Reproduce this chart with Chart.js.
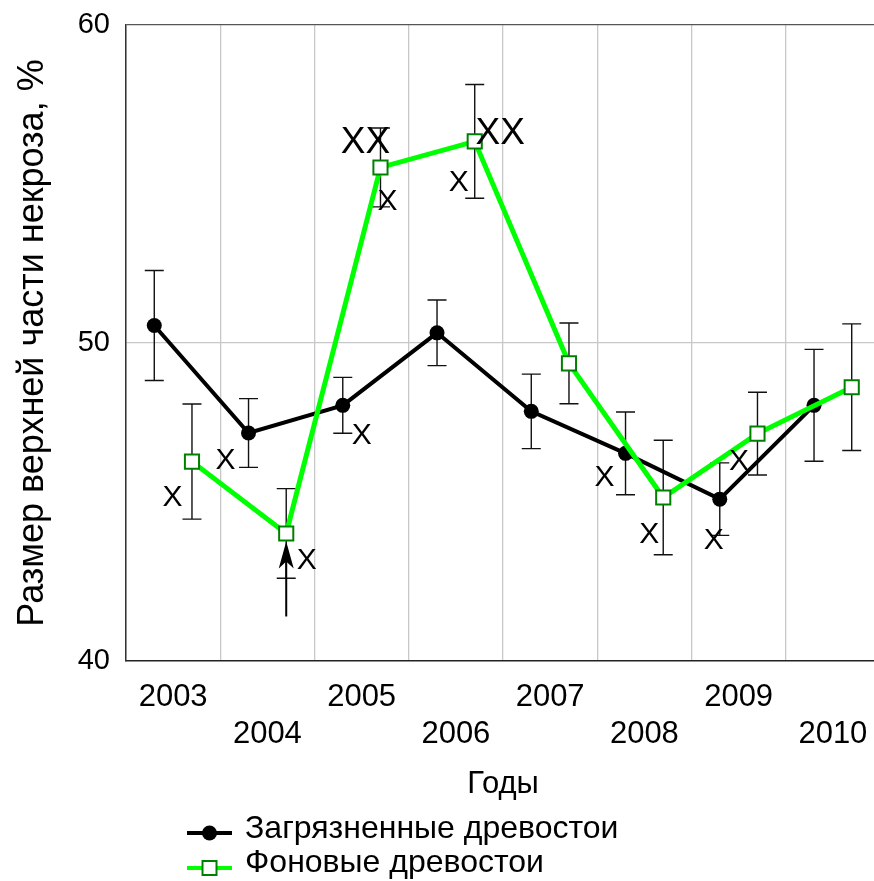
<!DOCTYPE html>
<html>
<head>
<meta charset="utf-8">
<script src="https://cdn.jsdelivr.net/npm/chart.js@4/dist/chart.umd.min.js"></script>
<style>
  html, body { margin: 0; padding: 0; background: #fff; overflow: hidden; }
  #wrap { width: 874px; height: 881px; overflow: hidden; }
  canvas { display: block; }
</style>
</head>
<body>
<div id="wrap"><canvas id="c" width="892" height="881"></canvas></div>
<script>
// ---- data ----
const years = ['2003', '2004', '2005', '2006', '2007', '2008', '2009', '2010'];
const pollutedMean = [50.55, 47.17, 48.04, 50.32, 47.85, 46.53, 45.09, 48.04];
const pollutedErr  = [1.73, 1.08, 0.88, 1.03, 1.17, 1.30, 1.14, 1.76];
const backgroundMean = [46.27, 44.01, 55.52, 56.34, 49.36, 45.14, 47.15, 48.61];
const backgroundErr  = [1.81, 1.41, 1.24, 1.79, 1.27, 1.80, 1.30, 1.99];
const yTicks = [40, 50, 60];
const seriesNames = ['Загрязненные древостои', 'Фоновые древостои'];
// significance marks: [series, index, text]
const marks = [
  ['b', 0, 'X'], ['p', 1, 'X'], ['b', 1, 'X'], ['p', 2, 'X'],
  ['b', 2, 'XX'], ['b', 2, 'X'], ['b', 3, 'XX'], ['b', 3, 'X'],
  ['p', 5, 'X'], ['b', 5, 'X'], ['p', 6, 'X'], ['b', 6, 'X']
];
// ---- layout / style (not data) ----
const markOffsets = [
  [-19.5, 35, 30], [-23, 27, 30], [20.5, 26, 30], [19, 29, 30],
  [-15, -26, 37], [7, 33, 30], [25.5, -9, 37], [-16, 40, 30],
  [-21, 23.5, 30], [-14, 36, 30], [-6, 41, 30], [-18.5, 27, 30]
];
const SHIFT = 0.2;
const FONT = "'Liberation Sans', Arial, sans-serif";

const pollutedPts = pollutedMean.map((v, i) => ({ x: i - SHIFT, y: v }));
const backgroundPts = backgroundMean.map((v, i) => ({ x: i + SHIFT, y: v }));

const extrasPlugin = {
  id: 'extras',
  beforeDatasetsDraw(chart) {
    const ctx = chart.ctx, xs = chart.scales.xv, ys = chart.scales.y;
    ctx.save();
    ctx.strokeStyle = '#111';
    ctx.lineWidth = 1.4;
    const draw = (means, errs, shift) => {
      means.forEach((m, i) => {
        const px = xs.getPixelForValue(i + shift);
        const yt = ys.getPixelForValue(m + errs[i]);
        const yb = ys.getPixelForValue(m - errs[i]);
        ctx.beginPath();
        ctx.moveTo(px, yt); ctx.lineTo(px, yb);
        ctx.moveTo(px - 9.5, yt); ctx.lineTo(px + 9.5, yt);
        ctx.moveTo(px - 9.5, yb); ctx.lineTo(px + 9.5, yb);
        ctx.stroke();
      });
    };
    draw(pollutedMean, pollutedErr, -SHIFT);
    draw(backgroundMean, backgroundErr, SHIFT);
    ctx.restore();
  },
  afterDatasetsDraw(chart) {
    const ctx = chart.ctx, xs = chart.scales.xv, ys = chart.scales.y;
    ctx.save();
    ctx.fillStyle = '#000';
    ctx.textAlign = 'center';
    ctx.textBaseline = 'middle';
    marks.forEach((mk, k) => {
      const [s, i, t] = mk;
      const [dx, dy, size] = markOffsets[k];
      const isB = s === 'b';
      const px = xs.getPixelForValue(i + (isB ? SHIFT : -SHIFT));
      const py = ys.getPixelForValue(isB ? backgroundMean[i] : pollutedMean[i]);
      ctx.font = size + 'px ' + FONT;
      ctx.fillText(t, px + dx, py + dy + 1);
    });
    // arrow pointing to background 2004
    const ax = xs.getPixelForValue(1 + SHIFT);
    const ay = ys.getPixelForValue(backgroundMean[1]);
    const tipY = ay + 8, baseY = ay + 83;
    ctx.strokeStyle = '#000';
    ctx.lineWidth = 2;
    ctx.beginPath();
    ctx.moveTo(ax, baseY); ctx.lineTo(ax, tipY + 18);
    ctx.stroke();
    ctx.beginPath();
    ctx.moveTo(ax, tipY);
    ctx.lineTo(ax + 7.5, tipY + 27);
    ctx.lineTo(ax, tipY + 20);
    ctx.lineTo(ax - 7.5, tipY + 27);
    ctx.closePath();
    ctx.fill();
    ctx.restore();
  },
  afterDraw(chart) {
    const ctx = chart.ctx;
    ctx.save();
    // legend
    const lx0 = 187, lx1 = 232, mx = 209.5, tx = 245;
    // row 1
    ctx.strokeStyle = '#000'; ctx.lineWidth = 4;
    ctx.beginPath(); ctx.moveTo(lx0, 833); ctx.lineTo(lx1, 833); ctx.stroke();
    ctx.fillStyle = '#000';
    ctx.beginPath(); ctx.arc(mx, 833, 7.5, 0, Math.PI * 2); ctx.fill();
    // row 2
    ctx.strokeStyle = '#00ff00'; ctx.lineWidth = 4;
    ctx.beginPath(); ctx.moveTo(lx0, 868); ctx.lineTo(lx1, 868); ctx.stroke();
    ctx.fillStyle = '#fff'; ctx.strokeStyle = '#008000'; ctx.lineWidth = 2;
    ctx.fillRect(mx - 7, 861, 14, 14); ctx.strokeRect(mx - 7, 861, 14, 14);
    ctx.fillStyle = '#000';
    ctx.font = '32px ' + FONT;
    ctx.textAlign = 'left'; ctx.textBaseline = 'alphabetic';
    ctx.fillText(seriesNames[0], tx, 838);
    ctx.fillText(seriesNames[1], tx, 872);
    ctx.restore();
  }
};

new Chart(document.getElementById('c'), {
  type: 'line',
  data: {
    labels: years,
    datasets: [
      {
        label: seriesNames[1], data: backgroundPts, xAxisID: 'xv', yAxisID: 'y',
        borderColor: '#00ff00', borderWidth: 5, tension: 0,
        pointStyle: 'rect', pointRadius: 10, pointBackgroundColor: '#ffffff',
        pointBorderColor: '#008000', pointBorderWidth: 2
      },
      {
        label: seriesNames[0], data: pollutedPts, xAxisID: 'xv', yAxisID: 'y',
        borderColor: '#000000', borderWidth: 4, tension: 0,
        pointStyle: 'circle', pointRadius: 7.5, pointBackgroundColor: '#000000',
        pointBorderColor: '#000000', pointBorderWidth: 0
      }
    ]
  },
  options: {
    responsive: false,
    animation: false,
    events: [],
    layout: { padding: { left: 0, top: 25, right: 4, bottom: 78 } },
    plugins: { legend: { display: false }, tooltip: { enabled: false } },
    scales: {
      x: {
        type: 'category', position: 'bottom', offset: true,
        grid: { offset: true, color: '#c8c8c8', lineWidth: 1.3, drawTicks: false },
        border: { color: '#222', width: 1.5 },
        ticks: {
          autoSkip: false, maxRotation: 0, minRotation: 0, padding: 18,
          color: '#000', font: { family: FONT, size: 31, lineHeight: 1.2 },
          callback: (v, i) => (i % 2 === 0 ? [years[i], ''] : ['', years[i]])
        },
        title: { display: true, text: 'Годы', color: '#000', padding: { top: 0, bottom: 0 },
                 font: { family: FONT, size: 31 } },
        afterFit: (s) => { s.height = 142; }
      },
      xv: { type: 'linear', axis: 'x', position: 'bottom', display: false, min: -0.5, max: 7.5 },
      y: {
        type: 'linear', position: 'left', min: 40, max: 60,
        afterBuildTicks: (s) => { s.ticks = yTicks.map(v => ({ value: v })); },
        grid: {
          drawTicks: false, lineWidth: 1.3,
          color: (c) => c.tick && c.tick.value === 60 ? '#555' : (c.tick && c.tick.value === 40 ? 'rgba(0,0,0,0)' : '#c8c8c8')
        },
        border: { color: '#333', width: 1.5 },
        ticks: { padding: 16, color: '#000', font: { family: FONT, size: 29 } },
        title: { display: true, text: 'Размер верхней части некроза, %', color: '#000',
                 padding: { top: 11, bottom: 0 }, font: { family: FONT, size: 36 } },
        afterFit: (s) => { s.width = 126; s.paddingTop = 0; s.paddingBottom = 0; }
      }
    }
  },
  plugins: [extrasPlugin]
});
</script>
</body>
</html>
